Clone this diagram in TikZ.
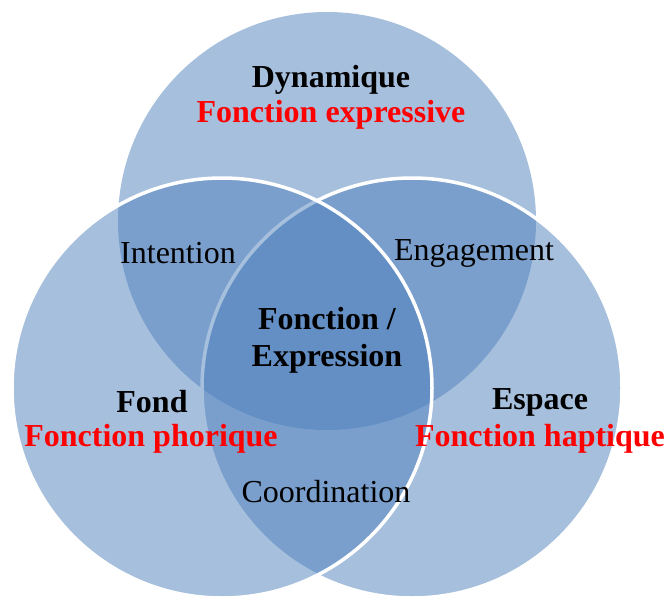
\documentclass[tikz,border=0pt]{standalone}
\usepackage{fontspec}
\setmainfont{Liberation Serif}
\usepackage{xcolor}
\usepackage{tikz}
\definecolor{vennblue}{RGB}{79,129,189}
\definecolor{vennred}{RGB}{255,0,0}
\tikzset{
  venn/.style={circle, inner sep=0pt, outer sep=0pt, fill=vennblue, fill opacity=0.5},
  rim/.style={draw=white, line width=3.5pt},
  titre/.style={font=\fontsize{32}{37}\selectfont\bfseries, align=center, text=black},
  fonc/.style={font=\fontsize{32}{37}\selectfont\bfseries, text=vennred},
  zone/.style={font=\fontsize{32}{37}\selectfont, text=black}
}
\begin{document}
\begin{tikzpicture}[x=1pt,y=-1pt]
    \clip (0,0) rectangle (668,596);
    \fill[white] (0,0) rectangle (668,596);
    %%%%%%%%%%%%%%%%%%%%%%%%%%%%%%%%%%
    \node[venn, minimum size=418pt] (dyn) at (327,221) {}; % cercle haut
    \node[venn, rim, minimum size=420pt] (esp) at (412,388) {}; % cercle droit
    \node[venn, rim, minimum size=420pt] (fond) at (222,388) {}; % cercle gauche
    %%%%%%%%%%%%%%%%%%%%%%%%%%%%%%%%%%
    \node[titre] (tdyn) at (331,80) {Dynamique};
    \node[fonc] (fexp) at (331,115) {Fonction expressive};
    \node[titre] (tfond) at (152,402) {Fond};
    \node[fonc] (fpho) at (151,439) {Fonction phorique};
    \node[titre] (tesp) at (540,402) {Espace};
    \node[fonc] (fhap) at (540,439) {Fonction haptique};
    \node[titre] (centre) at (327,340) {Fonction /\\Expression};
    %%%%%%%%%%%%%%%%%%%%%%%%%%%%%%%%%%
    \node[zone] (inte) at (178,253) {Intention};
    \node[zone] (enga) at (474,253) {Engagement};
    \node[zone] (coor) at (326,492) {Coordination};
\end{tikzpicture}
\end{document}
